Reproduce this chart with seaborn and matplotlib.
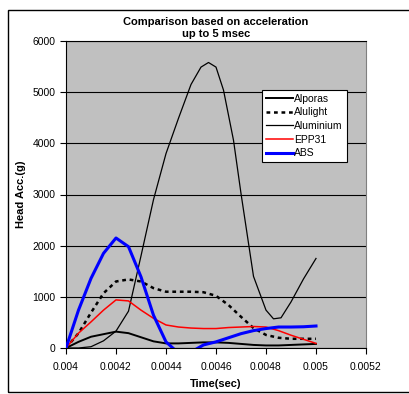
import matplotlib
matplotlib.use("Agg")
import matplotlib.pyplot as plt
import seaborn as sns
import pandas as pd
from matplotlib.patches import Rectangle

time = [0.004, 0.00405, 0.0041, 0.00415, 0.0042, 0.00425, 0.0043, 0.00435, 0.0044,
        0.00445, 0.0045, 0.00455, 0.0046, 0.00465, 0.0047, 0.00475, 0.0048,
        0.00485, 0.0049, 0.00495, 0.005]

alporas = [0, 120, 220, 270, 320, 290, 210, 130, 90, 90, 100, 110, 110, 100, 80,
           60, 50, 50, 60, 70, 80]
alulight = [0, 290, 690, 1070, 1300, 1340, 1300, 1170, 1100, 1100, 1100, 1090,
            1020, 840, 610, 390, 255, 200, 180, 180, 180]
epp31 = [0, 290, 510, 740, 940, 920, 740, 580, 450, 410, 390, 380, 380, 400, 410,
         420, 410, 340, 250, 170, 90]
abs_ = [0, 740, 1360, 1850, 2150, 1980, 1390, 640, 120, -100, -80, 60, 120, 200,
        280, 340, 380, 410, 410, 415, 430]

# aluminium read at a finer step around its peak
time_al = [0.004, 0.00405, 0.0041, 0.00415, 0.0042, 0.00425, 0.0043, 0.00435, 0.0044,
           0.00445, 0.0045, 0.00454, 0.00457, 0.0046, 0.00463, 0.00467, 0.0047,
           0.00475, 0.0048, 0.00483, 0.00486, 0.0049, 0.00495, 0.005]
aluminium = [0, 0, 25, 140, 330, 720, 1800, 2900, 3800, 4490, 5150, 5490, 5580, 5490,
             5040, 4060, 3020, 1400, 740, 570, 590, 900, 1350, 1750]

series = {"Alporas": (time, alporas), "Alulight": (time, alulight),
          "Aluminium": (time_al, aluminium), "EPP31": (time, epp31), "ABS": (time, abs_)}
styles = {"Alporas": dict(color="black", lw=1.4, ls="-"),
          "Alulight": dict(color="black", lw=1.8, ls=(0, (1.5, 1.5))),
          "Aluminium": dict(color="black", lw=0.9, ls="-"),
          "EPP31": dict(color="red", lw=1.1, ls="-"),
          "ABS": dict(color="blue", lw=2.2, ls="-")}

plt.rcParams['font.family'] = ['Liberation Sans', 'DejaVu Sans']

fig = plt.figure(figsize=(4.1, 3.94), dpi=100)
ax = fig.add_axes([66/410, 1-348/394, 300/410, 307/394])
ax.set_facecolor("#C0C0C0")

for name, (t, vals) in series.items():
    df = pd.DataFrame({"t": t, "v": vals})
    st = styles[name]
    sns.lineplot(data=df, x="t", y="v", ax=ax, color=st["color"], linewidth=st["lw"],
                 linestyle=st["ls"], label=name, zorder=3)

ax.set_xlim(0.004, 0.0052)
ax.set_ylim(0, 6000)
ax.set_xticks([0.004, 0.0042, 0.0044, 0.0046, 0.0048, 0.005, 0.0052])
ax.set_xticklabels(["0.004", "0.0042", "0.0044", "0.0046", "0.0048", "0.005", "0.0052"])
ax.set_yticks([0, 1000, 2000, 3000, 4000, 5000, 6000])
ax.yaxis.grid(True, color="black", linewidth=0.8, zorder=1)
ax.set_axisbelow(True)
ax.tick_params(axis="both", labelsize=7.5, direction="out", length=4, width=0.8)
ax.tick_params(axis="x", pad=6)
for s in ["left", "bottom", "top"]:
    ax.spines[s].set_color("black")
    ax.spines[s].set_linewidth(0.8)
ax.spines["right"].set_color("#808080")

ax.set_xlabel("Time(sec)", fontsize=8, fontweight="bold", labelpad=5)
ax.set_ylabel("Head Acc.(g)", fontsize=8, fontweight="bold", labelpad=5)
ax.set_title("Comparison based on acceleration\nup to 5 msec", fontsize=8,
             fontweight="bold", pad=3, linespacing=1.25)

leg = ax.legend(loc="upper right", bbox_to_anchor=(0.937, 0.842), fontsize=7.5,
                frameon=True, fancybox=False, framealpha=1, edgecolor="black",
                handlelength=2.6, handletextpad=0.1, borderpad=0.4, labelspacing=0.35,
                borderaxespad=0)
leg.get_frame().set_linewidth(0.8)

fig.patches.append(Rectangle((8/410, 1-392/394), 1.0, 382/394, transform=fig.transFigure,
                             fill=False, edgecolor="black", linewidth=1.0))

fig.savefig("out.png", dpi=100)
